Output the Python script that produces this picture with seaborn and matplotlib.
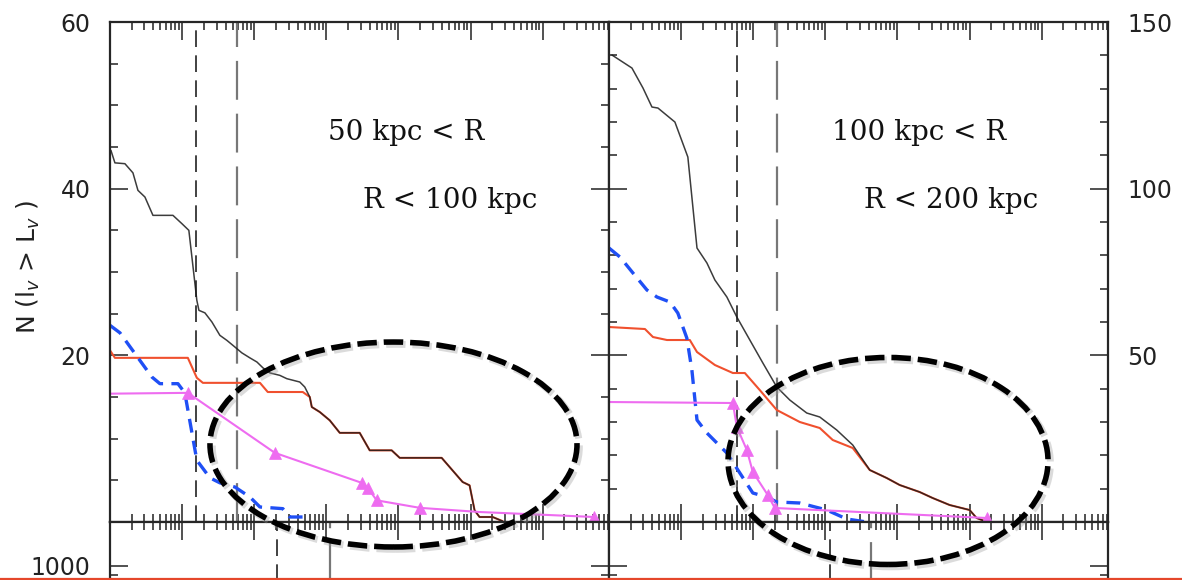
import matplotlib
matplotlib.use("Agg")
import matplotlib.pyplot as plt
import seaborn as sns
from matplotlib.patches import Ellipse
from matplotlib.lines import Line2D
from matplotlib.ticker import LogLocator, NullFormatter, MultipleLocator, FuncFormatter, FixedLocator

# ---- left panel: 50 kpc < R < 100 kpc ----
lum_black_a = [1.03, 1.17, 1.61, 2.08, 2.44, 3.05, 3.94, 7.46, 9.94, 12.4, 16.0, 17.1, 20.7, 25.9,
               33.4, 41.7, 50.6, 67.3, 86.9, 109, 132, 164, 226, 283, 428, 502, 589, 628, 810, 1114,
               1534, 2900, 3990, 8050, 10400, 39700, 77500, 96800, 113600, 133000, 202000, 278000]
n_black_a = [44.6, 43.1, 43.0, 41.9, 39.8, 39.0, 36.8, 36.8, 35.8, 35.0, 26.6, 25.4, 25.1, 24.0,
             22.4, 21.8, 21.2, 20.3, 19.7, 19.2, 18.5, 17.9, 17.6, 17.2, 16.8, 16.2, 15.0, 13.8, 13.2, 12.2,
             10.7, 10.7, 8.6, 8.6, 7.7, 7.7, 4.8, 4.4, 1.4, 0.6, 0.6, 0.1]

lum_red_a = [1.0, 1.17, 12.0, 16.0, 19.4, 120, 154, 471, 589, 628, 810, 1114, 1534, 2900, 3990,
             8050, 10400, 39700, 77500, 96800, 113600, 133000, 202000, 278000]
n_red_a = [20.6, 19.7, 19.7, 17.3, 16.7, 16.7, 15.6, 15.6, 15.0, 13.8, 13.2, 12.2, 10.7, 10.7, 8.6,
           8.6, 7.7, 7.7, 4.8, 4.4, 1.4, 0.6, 0.6, 0.1]

lum_blue_a = [1.0, 1.375, 3.81, 4.92, 8.75, 10.9, 16.0, 24.3, 33.4, 53.9, 86.9, 120, 249, 311, 535]
n_blue_a = [23.6, 22.7, 17.4, 16.6, 16.6, 15.5, 7.4, 5.3, 4.7, 4.2, 3.0, 1.8, 1.6, 0.6, 0.6]

lum_mag_a = [1.0, 12.0, 193, 3090, 3740, 4990, 19700, 133000, 5.2e6]
n_mag_a = [15.4, 15.5, 8.3, 4.7, 4.1, 2.6, 1.7, 1.2, 0.6]
mark_mag_a = [1, 2, 3, 4, 5, 6, 8]

# ---- right panel: 100 kpc < R < 200 kpc ----
lum_black_b = [1.10, 2.08, 2.96, 3.94, 4.77, 8.20, 12.4, 16.6, 22.8, 29.4, 43.1, 59.2, 89.7, 136, 212,
               321, 552, 836, 1438, 2397, 4124, 7086, 10720, 20270, 30730, 52840, 100000, 125000, 161000]
n_black_b = [140.1, 136.2, 130.2, 124.5, 124.2, 120.0, 109.5, 82.2, 77.7, 72.6, 67.5, 61.5, 54.6, 47.7,
             40.5, 36.6, 32.7, 31.5, 27.6, 23.1, 15.6, 13.2, 11.1, 9.0, 7.2, 5.1, 3.6, 1.2, 0.3]

lum_red_b = [1.0, 3.15, 4.07, 6.36, 13.2, 16.6, 29.4, 52.2, 76.5, 123, 212, 442, 836, 1266, 2397,
             4124, 7086, 10720, 20270, 30730, 52840, 100000, 125000, 161000]
n_red_b = [58.5, 57.9, 55.5, 54.6, 54.6, 51.0, 47.1, 44.7, 44.7, 39.6, 33.6, 30.0, 28.2, 24.6, 22.2,
           15.6, 13.2, 11.1, 9.0, 7.2, 5.1, 3.6, 1.2, 0.3]

lum_blue_b = [1.0, 1.42, 2.15, 3.36, 4.62, 7.0, 9.0, 12.0, 14.1, 16.6, 22.8, 43.1, 65.2, 98.7, 154,
              212, 442, 1045, 1978, 3745]
n_blue_b = [82.2, 79.5, 74.7, 69.6, 67.5, 66.0, 62.7, 55.2, 45.6, 30.6, 26.7, 20.7, 14.7, 8.7, 7.5,
            6.0, 5.7, 3.6, 0.9, 0.0]

lum_mag_b = [1.0, 52.2, 59.2, 81.5, 98.7, 159, 199, 172000]
n_mag_b = [36.0, 35.7, 28.5, 21.6, 15.0, 8.1, 4.2, 1.2]
mark_mag_b = [1, 2, 3, 4, 5, 6, 7]

# vertical reference lines (short dash, long dash) for upper and lower panels
vline_upper = [(15.6, 58), (60, 214)]
vline_lower = [(209, 1140), (1170, 4360)]

panel_text = [("50 kpc < R", "R < 100 kpc"), ("100 kpc < R", "R < 200 kpc")]
ymax = [60, 150]
ymajor = [20, 50]
yminor = [5, 10]

sns.set_style("ticks")
plt.rcParams["font.family"] = ["DejaVu Sans"]
plt.rcParams["lines.scale_dashes"] = False
plt.rcParams["axes.linewidth"] = 1.6

fig = plt.figure(figsize=(11.82, 5.8), dpi=100)
XMAX = 8.3e6

series = [
    (lum_black_a, n_black_a, lum_red_a, n_red_a, lum_blue_a, n_blue_a, lum_mag_a, n_mag_a, mark_mag_a),
    (lum_black_b, n_black_b, lum_red_b, n_red_b, lum_blue_b, n_blue_b, lum_mag_b, n_mag_b, mark_mag_b),
]
x0s = [110 / 1182, 609 / 1182]
width = 499 / 1182
text_x = [(0.437, 0.507), (0.446, 0.512)]


def log_x(ax):
    ax.set_xscale("log")
    ax.set_xlim(1, XMAX)
    ax.xaxis.set_major_locator(LogLocator(base=10, numticks=20))
    ax.xaxis.set_minor_locator(LogLocator(base=10, subs=[2, 3, 4, 5, 6, 7, 8, 9], numticks=20))
    ax.xaxis.set_major_formatter(NullFormatter())
    ax.xaxis.set_minor_formatter(NullFormatter())


for i in range(2):
    bk, nbk, rd, nrd, bl, nbl, mg, nmg, mk = series[i]
    ax = fig.add_axes([x0s[i], 0.1, width, 0.862])
    log_x(ax)
    ax.set_ylim(0, ymax[i])
    ax.yaxis.set_major_locator(MultipleLocator(ymajor[i]))
    ax.yaxis.set_minor_locator(MultipleLocator(yminor[i]))
    ax.yaxis.set_major_formatter(FuncFormatter(lambda v, p: "" if v == 0 else f"{v:.0f}"))
    ax.tick_params(which="both", direction="in", top=True, bottom=True, left=True, right=True,
                   width=1.1, labelbottom=False, labelleft=(i == 0), labelright=(i == 1),
                   labelsize=17, pad=14, colors="#222222")
    ax.tick_params(which="major", length=13)
    ax.tick_params(which="minor", length=6)

    s, l = vline_upper[i]
    ax.axvline(s, color="#333333", lw=1.3, linestyle=(0, (12, 6)), zorder=1)
    ax.axvline(l, color="#777777", lw=1.6, linestyle=(0, (28, 10)), zorder=1)

    sns.lineplot(x=rd, y=nrd, ax=ax, color="#f0502e", lw=1.5, estimator=None, sort=False)
    sns.lineplot(x=bk, y=nbk, ax=ax, color="#1a1a1a", lw=1.1, alpha=0.85, estimator=None, sort=False)
    sns.lineplot(x=bl, y=nbl, ax=ax, color="#1f4ff5", lw=2.4, estimator=None, sort=False,
                 linestyle=(0, (10, 6)))
    sns.lineplot(x=mg, y=nmg, ax=ax, color="#ee6cf0", lw=1.5, estimator=None, sort=False,
                 marker="^", markevery=mk, markersize=8, markeredgecolor="#ee6cf0",
                 markeredgewidth=0.5)

    t1, t2 = panel_text[i]
    ax.text(text_x[i][0], 0.78, t1, transform=ax.transAxes, ha="left", va="center",
            fontsize=20, family="DejaVu Serif", color="#111111")
    ax.text(text_x[i][1], 0.644, t2, transform=ax.transAxes, ha="left", va="center",
            fontsize=20, family="DejaVu Serif", color="#111111")
    ax.set_xlabel("")
    ax.set_ylabel("")

    # lower panel, mostly cut off by the figure edge
    axl = fig.add_axes([x0s[i], -0.5, width, 0.6])
    log_x(axl)
    axl.set_yscale("log")
    axl.set_ylim(28, 1675)
    axl.yaxis.set_major_locator(FixedLocator([1000]))
    axl.yaxis.set_minor_locator(FixedLocator([800, 900]))
    axl.yaxis.set_major_formatter(FuncFormatter(lambda v, p: f"{v:.0f}"))
    axl.yaxis.set_minor_formatter(NullFormatter())
    axl.tick_params(which="both", direction="in", top=True, bottom=True, left=True, right=True,
                    width=1.1, labelbottom=False, labelleft=(i == 0), labelright=False,
                    labelsize=17, pad=14, colors="#222222")
    axl.tick_params(which="major", length=13)
    axl.tick_params(which="minor", length=6)
    s, l = vline_lower[i]
    axl.axvline(s, color="#333333", lw=1.3, linestyle=(0, (12, 6)))
    axl.axvline(l, color="#777777", lw=1.6, linestyle=(0, (28, 10)))

fig.text(0.024, 0.54, "N (l$_v$ > L$_v$ )", rotation=90, ha="center", va="center",
         fontsize=18, color="#222222")

# dashed highlight ellipses drawn over the figure
for cx, cy, w, h in [(0.3329, 0.2336, 0.3105, 0.3534), (0.7513, 0.2052, 0.2707, 0.3569)]:
    fig.add_artist(Ellipse((cx + 0.002, cy - 0.004), w, h, transform=fig.transFigure, fill=False,
                           ec="#999999", lw=5, alpha=0.35, linestyle=(0, (14, 5))))
    fig.add_artist(Ellipse((cx, cy), w, h, transform=fig.transFigure, fill=False, ec="black",
                           lw=4, linestyle=(0, (14, 5))))

fig.add_artist(Line2D([0, 1], [0.002, 0.002], transform=fig.transFigure, color="#e5472b", lw=1.6))

fig.savefig("out.png", dpi=100)
